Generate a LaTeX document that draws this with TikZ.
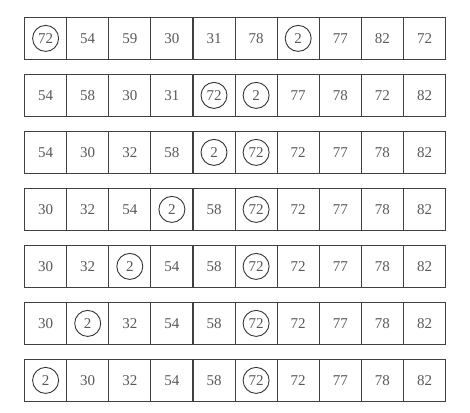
\documentclass[tikz,border=0pt]{standalone}
\usepackage{fontspec}
\setmainfont{Liberation Serif}
\begin{document}
\begin{tikzpicture}[x=1pt,y=-1pt,
  cell/.style={draw=black!75,line width=1.1pt,minimum width=42.1pt,minimum height=41.7pt,inner sep=0pt,anchor=north west,text=black!65,font=\fontsize{15}{15}\selectfont},
  ring/.style={draw=black!80,line width=0.9pt,circle,minimum size=26pt,inner sep=0pt}]
\useasboundingbox (0,0) rectangle (470,412);
\def\rowlist{{72,54,59,30,31,78,2,77,82,72},{54,58,30,31,72,2,77,78,72,82},{54,30,32,58,2,72,72,77,78,82},{30,32,54,2,58,72,72,77,78,82},{30,32,2,54,58,72,72,77,78,82},{30,2,32,54,58,72,72,77,78,82},{2,30,32,54,58,72,72,77,78,82}}
\foreach \r/\vals/\ca/\cb in {1/{72,54,59,30,31,78,2,77,82,72}/1/7,
  2/{54,58,30,31,72,2,77,78,72,82}/5/6,
  3/{54,30,32,58,2,72,72,77,78,82}/5/6,
  4/{30,32,54,2,58,72,72,77,78,82}/4/6,
  5/{30,32,2,54,58,72,72,77,78,82}/3/6,
  6/{30,2,32,54,58,72,72,77,78,82}/2/6,
  7/{2,30,32,54,58,72,72,77,78,82}/1/6}{
  \foreach \v [count=\c] in \vals {
    \node[cell] (c\r-\c) at ({24+42.1*(\c-1)},{17+57*(\r-1)}) {\v};
  }
  \node[ring] (ra\r) at (c\r-\ca.center) {};
  \node[ring] (rb\r) at (c\r-\cb.center) {};
}
\end{tikzpicture}
\end{document}
